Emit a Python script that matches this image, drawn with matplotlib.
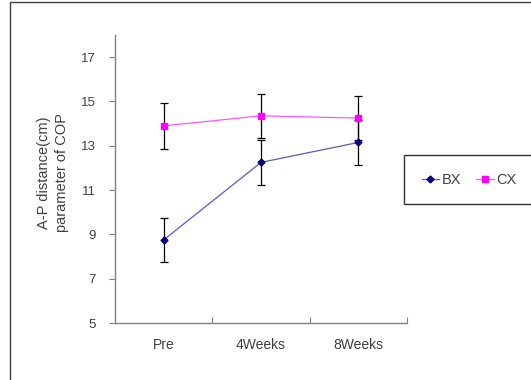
import matplotlib
matplotlib.use("Agg")
import matplotlib.pyplot as plt
from matplotlib.patches import Rectangle

# data
categories = ["Pre", "4Weeks", "8Weeks"]
bx_mean = [8.75, 12.25, 13.15]
bx_err = [1.0, 1.0, 1.0]
cx_mean = [13.9, 14.35, 14.25]
cx_err = [1.05, 1.0, 1.0]
y_ticks = [5, 7, 9, 11, 13, 15, 17]

plt.rcParams['font.family'] = ['Liberation Sans', 'DejaVu Sans']
plt.rcParams['font.size'] = 9

W, H = 531, 380
fig = plt.figure(figsize=(W / 100, H / 100), dpi=100)
ax = fig.add_axes([115 / W, 1 - 323 / H, (407 - 115) / W, (323 - 35) / H])

# outer chart frame, cut off at right and bottom like the reference
fig.patches.append(Rectangle((10 / W, -0.05), 1.2, 1 - 2.5 / H + 0.05,
                             transform=fig.transFigure, fill=False,
                             edgecolor='#404040', linewidth=1.0))

x = list(range(len(categories)))
ax.errorbar(x, bx_mean, yerr=bx_err, fmt='none', ecolor='black',
            elinewidth=0.9, capsize=3, capthick=0.9, zorder=2)
ax.errorbar(x, cx_mean, yerr=cx_err, fmt='none', ecolor='black',
            elinewidth=0.9, capsize=3, capthick=0.9, zorder=2)
ax.plot(x, bx_mean, color='#5a5ac0', linewidth=0.9, marker='D', markersize=3.5,
        markerfacecolor='#000080', markeredgecolor='#000080', label='BX', zorder=3)
ax.plot(x, cx_mean, color='#ff55ff', linewidth=0.9, marker='s', markersize=5,
        markerfacecolor='#ff00ff', markeredgecolor='#ff00ff', label='CX', zorder=3)

ax.set_xlim(-0.5, 2.5)
ax.set_ylim(5, 18)
ax.set_yticks(y_ticks)
ax.set_yticklabels([str(v) for v in y_ticks])
ax.set_xticks([0.5, 1.5, 2.5])
ax.set_xticklabels([])
ax.set_xticks(x, minor=True)
ax.set_xticklabels(categories, minor=True)
ax.tick_params(axis='x', which='minor', length=0, pad=11, colors='#404040',
               labelsize=10)
ax.tick_params(axis='x', which='major', length=4, direction='in', color='#808080')
ax.tick_params(axis='y', length=4, direction='out', color='#808080',
               labelcolor='#404040', labelsize=9.5, pad=10)

for s in ['top', 'right']:
    ax.spines[s].set_visible(False)
for s in ['left', 'bottom']:
    ax.spines[s].set_color('#808080')
    ax.spines[s].set_linewidth(1.0)

fig.text(53 / W, 1 - 173 / H, "A-P distance(cm)\nparameter of COP",
         rotation=90, ha='center', va='center', color='#404040', fontsize=10.5,
         linespacing=1.4)

leg = ax.legend(loc='center left', bbox_to_anchor=(404 / W, 1 - 180 / H),
                bbox_transform=fig.transFigure, ncol=2, frameon=True,
                fancybox=False, edgecolor='black', handlelength=1.2,
                handletextpad=0.2, columnspacing=1.0, borderpad=1.2,
                borderaxespad=0, fontsize=10.5)
leg.get_frame().set_linewidth(1.0)
for t in leg.get_texts():
    t.set_color('#404040')

fig.savefig("out.png", dpi=100)
